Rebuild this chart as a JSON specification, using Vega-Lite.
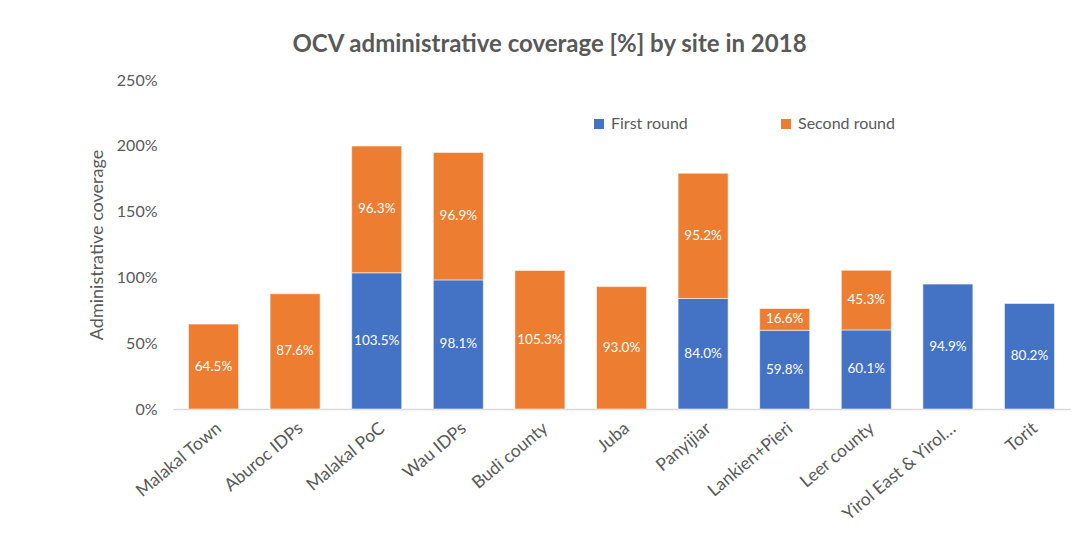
{
  "$schema": "https://vega.github.io/schema/vega-lite/v6.json",
  "width": 897,
  "height": 329,
  "autosize": {"type": "none"},
  "padding": {"left": 173, "top": 80, "right": 10, "bottom": 129},
  "background": "white",
  "config": {
    "font": "Lato",
    "view": {"stroke": null},
    "axis": {"labelColor": "#595959", "titleColor": "#595959", "grid": false}
  },
  "title": {
    "text": "OCV administrative coverage [%] by site in 2018",
    "fontSize": 24,
    "fontWeight": "bold",
    "color": "#595959",
    "frame": "group",
    "anchor": "middle",
    "baseline": "alphabetic",
    "offset": 0,
    "dy": 4,
    "dx": -72
  },
  "data": {
    "values": [
      {"site": "Malakal Town", "round": "Second round", "value": 0.645},
      {"site": "Aburoc IDPs", "round": "Second round", "value": 0.876},
      {"site": "Malakal PoC", "round": "First round", "value": 1.035},
      {"site": "Malakal PoC", "round": "Second round", "value": 0.963},
      {"site": "Wau IDPs", "round": "First round", "value": 0.981},
      {"site": "Wau IDPs", "round": "Second round", "value": 0.969},
      {"site": "Budi county", "round": "Second round", "value": 1.053},
      {"site": "Juba", "round": "Second round", "value": 0.930},
      {"site": "Panyijiar", "round": "First round", "value": 0.840},
      {"site": "Panyijiar", "round": "Second round", "value": 0.952},
      {"site": "Lankien+Pieri", "round": "First round", "value": 0.598},
      {"site": "Lankien+Pieri", "round": "Second round", "value": 0.166},
      {"site": "Leer county", "round": "First round", "value": 0.601},
      {"site": "Leer county", "round": "Second round", "value": 0.453},
      {"site": "Yirol East & Yirol…", "round": "First round", "value": 0.949},
      {"site": "Torit", "round": "First round", "value": 0.802}
    ]
  },
  "encoding": {
    "x": {
      "field": "site",
      "type": "nominal",
      "sort": null,
      "title": null,
      "scale": {"paddingInner": 0.387, "paddingOuter": 0.19},
      "axis": {
        "labelAngle": -40,
        "labelFontSize": 17.5,
        "labelPadding": 10,
        "ticks": false,
        "domainColor": "#D9D9D9",
        "domainWidth": 1.5,
        "labelOverlap": false
      }
    }
  },
  "layer": [
    {
      "mark": {"type": "bar", "stroke": "white", "strokeWidth": 0.8, "strokeOpacity": 0.7},
      "encoding": {
        "y": {
          "field": "value",
          "type": "quantitative",
          "stack": "zero",
          "title": "Administrative coverage",
          "scale": {"domain": [0, 2.5], "nice": false},
          "axis": {
            "values": [0, 0.5, 1, 1.5, 2, 2.5],
            "format": ".0%",
            "labelFontSize": 16,
            "labelPadding": 16,
            "ticks": false,
            "domain": false,
            "titleFontSize": 18,
            "titleFontWeight": "normal",
            "titlePadding": 10
          }
        },
        "color": {
          "field": "round",
          "type": "nominal",
          "scale": {"domain": ["First round", "Second round"], "range": ["#4472C4", "#ED7D31"]},
          "legend": {
            "title": null,
            "orient": "none",
            "legendX": 418,
            "legendY": 36,
            "direction": "horizontal",
            "symbolType": "square",
            "symbolSize": 100,
            "symbolStrokeWidth": 0,
            "labelFontSize": 16,
            "labelColor": "#595959",
            "labelOffset": 4,
            "columnPadding": 90
          }
        },
        "order": {"field": "round", "sort": "ascending"}
      }
    },
    {
      "mark": {"type": "text", "color": "white", "fontSize": 13.5},
      "encoding": {
        "y": {"field": "value", "type": "quantitative", "stack": "zero", "bandPosition": 0.5, "scale": {"domain": [0, 2.5], "nice": false}},
        "detail": {"field": "round"},
        "order": {"field": "round", "sort": "ascending"},
        "text": {"field": "value", "type": "quantitative", "format": ".1%"}
      }
    }
  ]
}
